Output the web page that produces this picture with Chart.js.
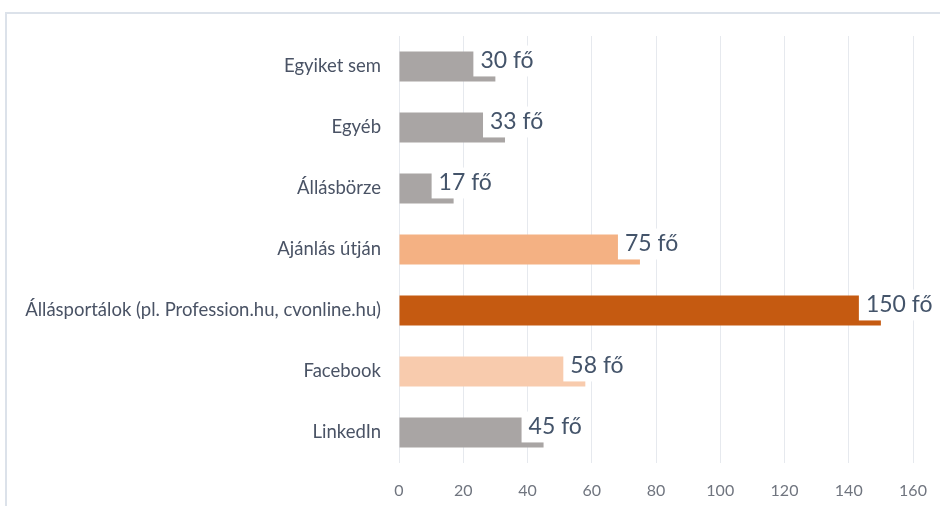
<!DOCTYPE html>
<html>
<head>
<meta charset="utf-8">
<script src="https://cdn.jsdelivr.net/npm/chart.js@4.4.1/dist/chart.umd.min.js"></script>
<style>
  html, body { margin: 0; padding: 0; background: #fff; }
  #wrap { width: 940px; height: 506px; position: relative; }
</style>
</head>
<body>
<div id="wrap"><canvas id="myBarChart" width="940" height="506"></canvas></div>
<script>
// categories, top to bottom
const categories = [
  'Egyiket sem',
  'Egyéb',
  'Állásbörze',
  'Ajánlás útján',
  'Állásportálok (pl. Profession.hu, cvonline.hu)',
  'Facebook',
  'LinkedIn'
];
const respondents = [30, 33, 17, 75, 150, 58, 45];
const unit = 'fő';
const xTicks = [0, 20, 40, 60, 80, 100, 120, 140, 160];

const barColors = ['#a9a5a4', '#a9a5a4', '#a9a5a4', '#f4b183', '#c55a11', '#f8cbad', '#a9a5a4'];

// frame around the chart (top + left edges visible)
const framePlugin = {
  id: 'frame',
  beforeDraw(chart) {
    const c = chart.ctx;
    c.save();
    c.fillStyle = '#fff';
    c.fillRect(0, 0, chart.width, chart.height);
    c.strokeStyle = '#dce2ea';
    c.lineWidth = 2;
    c.beginPath();
    c.moveTo(6, chart.height);
    c.lineTo(6, 13);
    c.lineTo(chart.width, 13);
    c.stroke();
    c.restore();
  }
};

// value labels sitting on a white box over the bar end
const valueLabels = {
  id: 'valueLabels',
  afterDatasetsDraw(chart) {
    const c = chart.ctx;
    const meta = chart.getDatasetMeta(0);
    c.save();
    c.font = '23px Lato';
    c.textBaseline = 'middle';
    meta.data.forEach((bar, i) => {
      const txt = respondents[i] + ' ' + unit;
      const w = c.measureText(txt).width;
      const left = bar.x - 22;
      const top = bar.y - bar.height / 2 - 6;
      const bottom = bar.y + bar.height / 2 - 5;
      c.fillStyle = '#fff';
      c.fillRect(left, top, w + 14, bottom - top);
      c.fillStyle = '#44546a';
      c.fillText(txt, left + 7, bar.y - 6);
    });
    c.restore();
  }
};

const ctx = document.getElementById('myBarChart').getContext('2d');

new Chart(ctx, {
  type: 'bar',
  data: {
    labels: categories,
    datasets: [{
      data: respondents,
      backgroundColor: barColors,
      barPercentage: 0.49,
      categoryPercentage: 1
    }]
  },
  options: {
    indexAxis: 'y',
    responsive: false,
    animation: false,
    layout: { padding: { left: 0, top: 36, right: 27, bottom: 0 } },
    plugins: {
      legend: { display: false },
      tooltip: { enabled: false }
    },
    scales: {
      x: {
        min: 0,
        max: 160,
        afterBuildTicks: scale => { scale.ticks = xTicks.map(v => ({ value: v })); },
        afterFit: scale => {
          scale.height = 43;
          scale.paddingRight = 0;
          scale.paddingLeft = 0;
        },
        grid: { color: '#e6e9ee', lineWidth: 1, drawTicks: false },
        border: { display: false },
        ticks: {
          color: '#70757f',
          font: { family: 'Lato', size: 16 },
          padding: 18
        }
      },
      y: {
        afterFit: scale => { scale.width = 399; },
        grid: { display: false, drawTicks: false },
        border: { display: false },
        ticks: {
          color: '#4a5365',
          font: { family: 'Lato', size: 18.5 },
          padding: 18
        }
      }
    }
  },
  plugins: [framePlugin, valueLabels]
});
</script>
</body>
</html>
